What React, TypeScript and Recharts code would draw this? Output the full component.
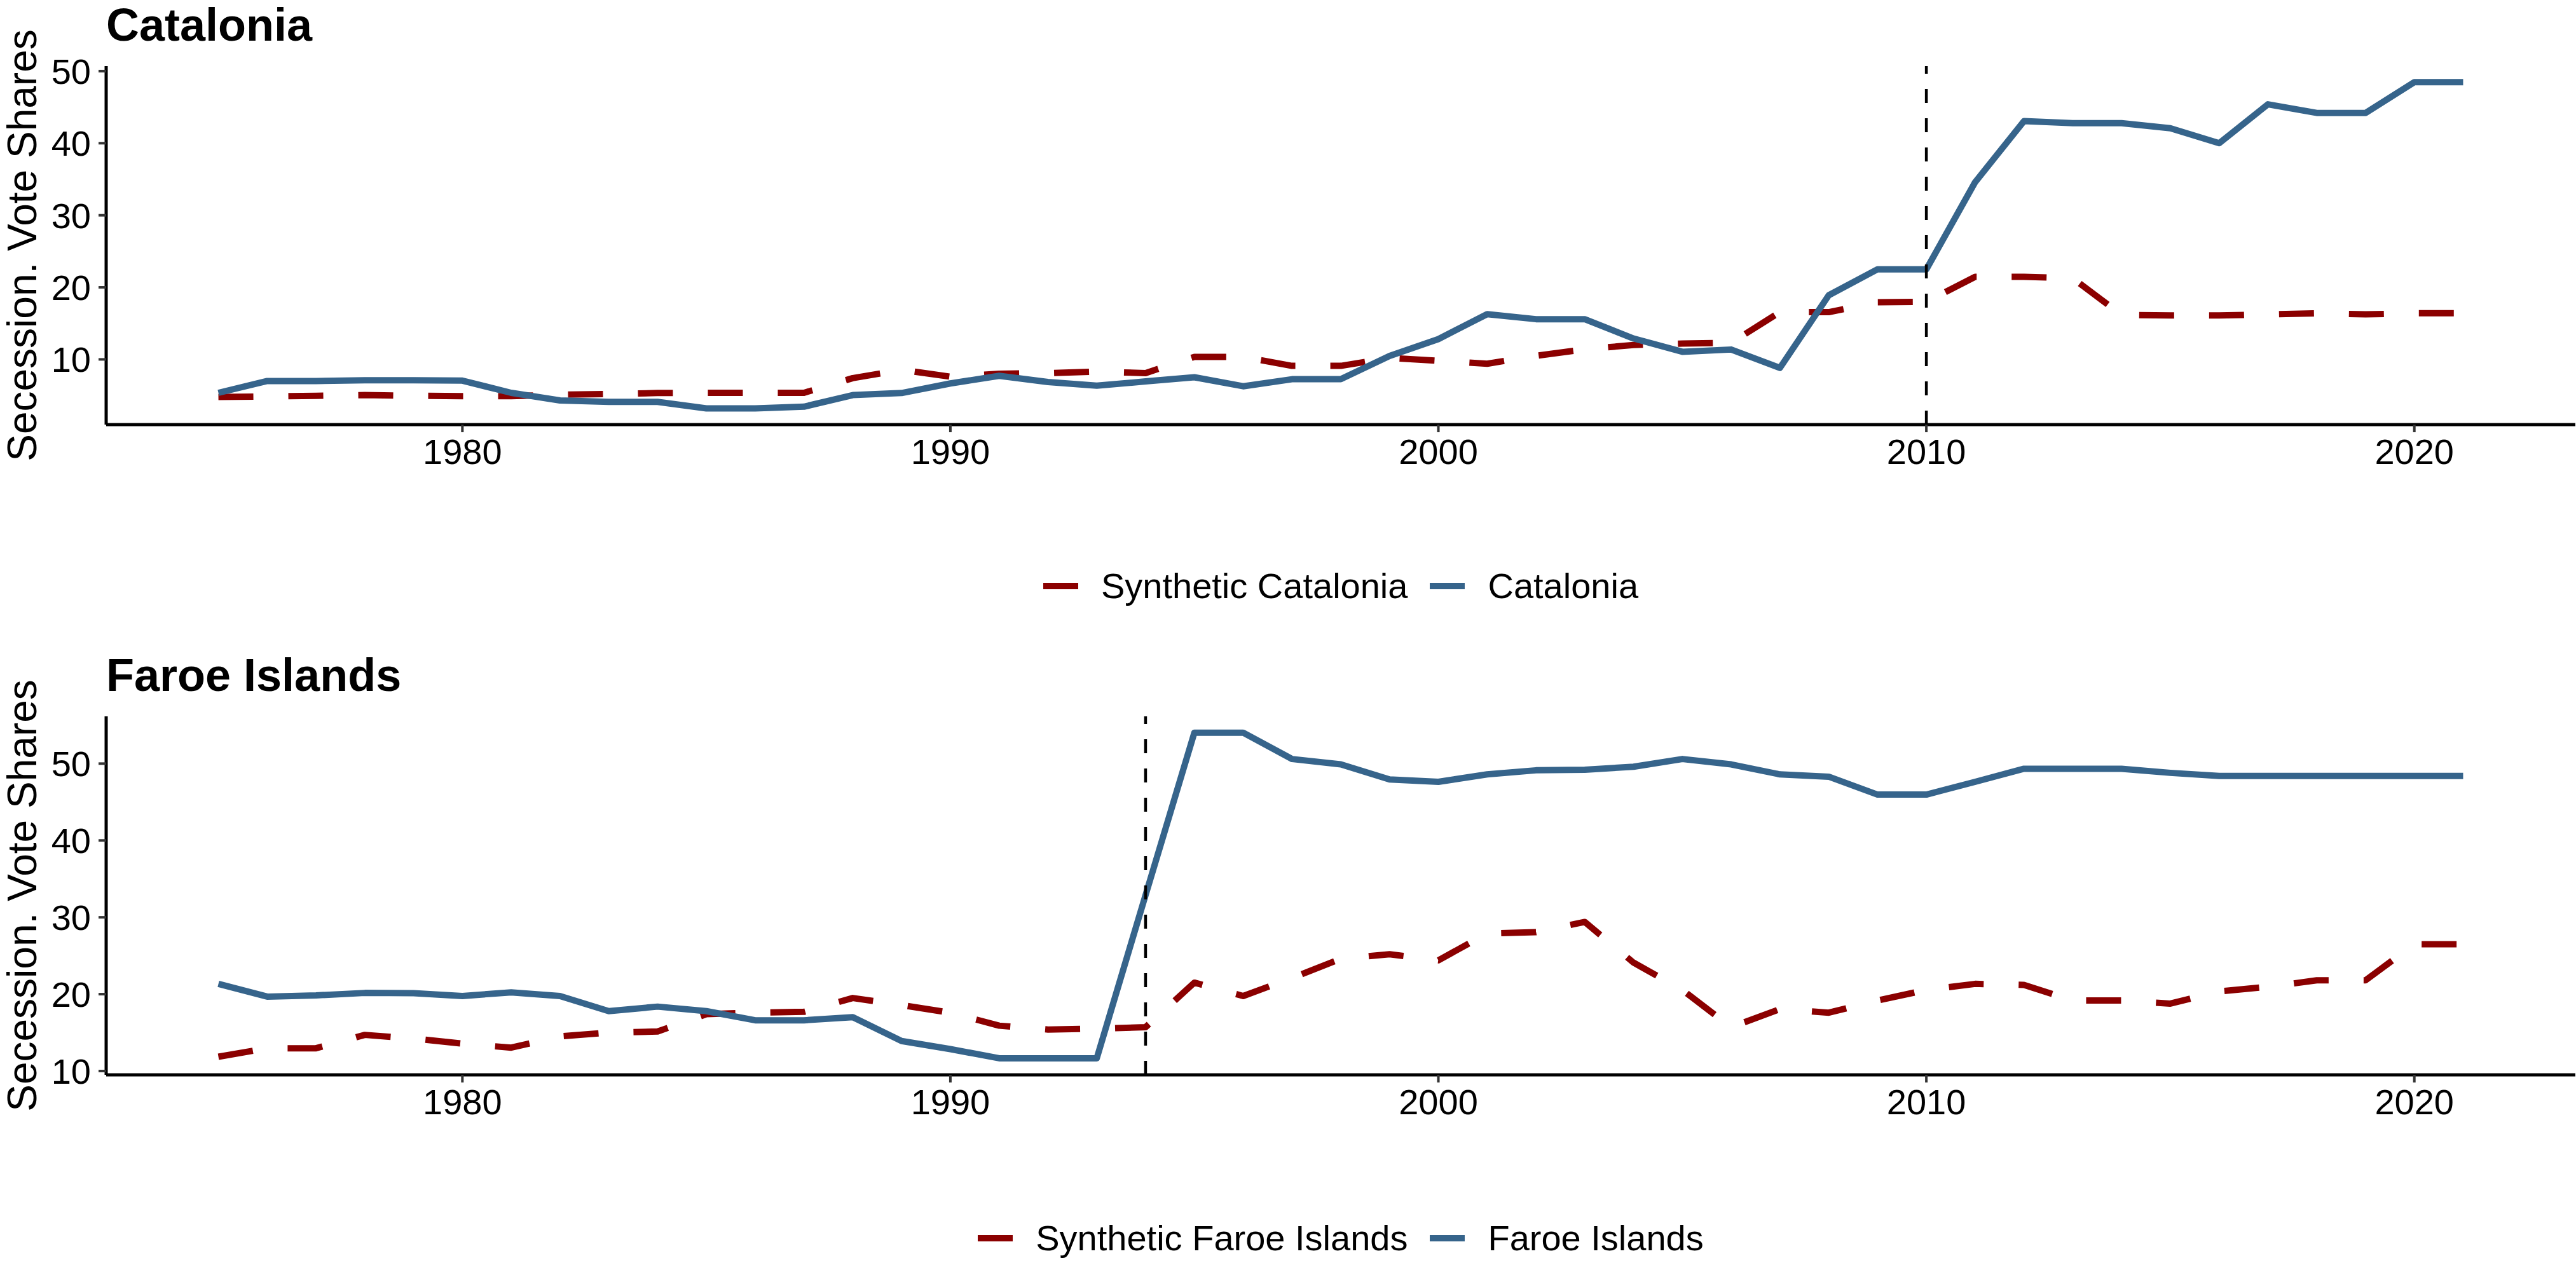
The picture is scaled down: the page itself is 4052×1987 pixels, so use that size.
import React from 'react';
import { LineChart, Line, XAxis, YAxis, ReferenceLine, Legend } from 'recharts';

const years = [
  1975, 1976, 1977, 1978, 1979, 1980, 1981, 1982, 1983, 1984, 1985, 1986, 1987, 1988, 1989,
  1990, 1991, 1992, 1993, 1994, 1995, 1996, 1997, 1998, 1999, 2000, 2001, 2002, 2003, 2004,
  2005, 2006, 2007, 2008, 2009, 2010, 2011, 2012, 2013, 2014, 2015, 2016, 2017, 2018, 2019,
  2020, 2021,
];

const catalonia = [
  5.36, 7.0, 7.0, 7.1, 7.1, 7.05, 5.36, 4.3, 4.1, 4.1, 3.2, 3.2, 3.44, 5.05, 5.33,
  6.66, 7.72, 6.86, 6.35, 6.94, 7.52, 6.27, 7.25, 7.25, 10.47, 12.82, 16.28, 15.58, 15.58, 12.9,
  11.06, 11.37, 8.82, 18.9, 22.5, 22.5, 34.6, 43.06, 42.78, 42.78, 42.07, 40.0, 45.4, 44.2, 44.2,
  48.48, 48.48,
];

const syntheticCatalonia = [
  4.78, 4.86, 4.95, 5.05, 4.95, 4.9, 4.9, 5.1, 5.2, 5.33, 5.36, 5.36, 5.36, 7.4, 8.55,
  7.6, 8.0, 8.1, 8.3, 8.1, 10.35, 10.35, 9.1, 9.1, 10.2, 9.8, 9.4, 10.5, 11.4, 12.0,
  12.2, 12.3, 16.56, 16.56, 17.93, 17.98, 21.46, 21.46, 21.27, 16.17, 16.1, 16.1, 16.25, 16.4, 16.25,
  16.4, 16.4,
];

const faroeIslands = [
  21.34, 19.68, 19.84, 20.16, 20.12, 19.76, 20.24, 19.76, 17.79, 18.38, 17.79, 16.6, 16.6, 17.0, 13.9,
  12.85, 11.66, 11.66, 11.66, 32.9, 54.03, 54.03, 50.6, 49.9, 47.94, 47.63, 48.6, 49.13, 49.2, 49.6,
  50.6, 49.9, 48.6, 48.3, 45.97, 45.97, 47.63, 49.33, 49.33, 49.33, 48.8, 48.4, 48.4, 48.4, 48.4,
  48.4, 48.4,
];

const syntheticFaroeIslands = [
  11.86, 12.96, 12.96, 14.7, 14.23, 13.56, 13.04, 14.5, 15.0, 15.14, 17.39, 17.6, 17.7, 19.5, 18.58,
  17.59, 15.9, 15.4, 15.5, 15.7, 21.5, 19.76, 22.1, 24.6, 25.2, 24.4, 27.9, 28.06, 29.4, 24.1,
  20.55, 15.7, 18.06, 17.59, 19.17, 20.55, 21.34, 21.2, 19.17, 19.17, 18.77, 20.36, 20.95, 21.8, 21.8,
  26.5, 26.5,
];

const xTicks = [1980, 1990, 2000, 2010, 2020];
const yTicks = [10, 20, 30, 40, 50];

const RED = '#8B0000';
const BLUE = '#36648B';
const FONT = '"Liberation Sans", Arial, Helvetica, sans-serif';
const W = 4052;

type PanelProps = {
  title: string;
  synthName: string;
  actualName: string;
  actual: number[];
  synthetic: number[];
  treatYear: number;
  yDomain: [number, number];
  top: number;
  height: number;
  plotTop: number;
  plotBottom: number;
  legendCenter: number;
  titleBaseline: number;
};

const legendOrder: Record<string, number> = { synthetic: 0, actual: 1 };

const renderLegend = (props: any) => {
  const payload = [...(props.payload || [])].sort(
    (a: any, b: any) => (legendOrder[a.dataKey] ?? 9) - (legendOrder[b.dataKey] ?? 9)
  );
  return (
    <div
      style={{
        display: 'flex',
        justifyContent: 'center',
        alignItems: 'center',
        height: 64,
        fontFamily: FONT,
        fontSize: 56,
        lineHeight: '64px',
        color: '#000',
        whiteSpace: 'nowrap',
      }}
    >
      {payload.map((entry: any, i: number) => (
        <div key={i} style={{ display: 'flex', alignItems: 'center', marginRight: i < payload.length - 1 ? 35 : 0 }}>
          <span style={{ display: 'inline-block', width: 55, height: 10, background: entry.color, marginRight: 36 }} />
          <span>{entry.value}</span>
        </div>
      ))}
    </div>
  );
};

function Panel(p: PanelProps) {
  const data = years.map((year, i) => ({ year, synthetic: p.synthetic[i], actual: p.actual[i] }));
  const xAxisHeight = 80;
  const plotCenter = (p.plotTop + p.plotBottom) / 2;
  return (
    <div style={{ position: 'absolute', left: 0, top: p.top, width: W, height: p.height }}>
      <LineChart
        width={W}
        height={p.height}
        data={data}
        margin={{ top: p.plotTop, right: 1, left: 0, bottom: p.height - p.plotBottom - xAxisHeight }}
      >
        <XAxis
          dataKey="year"
          type="number"
          domain={[1972.7, 2023.3]}
          ticks={xTicks}
          allowDataOverflow
          height={xAxisHeight}
          tickSize={12}
          tickMargin={10}
          axisLine={{ stroke: '#000', strokeWidth: 5 }}
          tickLine={{ stroke: '#333', strokeWidth: 4 }}
          tick={{ fill: '#000', fontSize: 56, fontFamily: FONT }}
        />
        <YAxis
          type="number"
          domain={p.yDomain}
          ticks={yTicks}
          allowDataOverflow
          width={167}
          tickSize={12}
          tickMargin={12}
          axisLine={{ stroke: '#000', strokeWidth: 5 }}
          tickLine={{ stroke: '#333', strokeWidth: 4 }}
          tick={{ fill: '#000', fontSize: 56, fontFamily: FONT }}
        />
        <Line
          dataKey="synthetic"
          name={p.synthName}
          stroke={RED}
          strokeWidth={10}
          strokeDasharray="55 55"
          strokeLinejoin="round"
          dot={false}
          activeDot={false}
          isAnimationActive={false}
          type="linear"
        />
        <Line
          dataKey="actual"
          name={p.actualName}
          stroke={BLUE}
          strokeWidth={10}
          strokeLinejoin="round"
          dot={false}
          activeDot={false}
          isAnimationActive={false}
          type="linear"
        />
        <ReferenceLine x={p.treatYear} stroke="#000" strokeWidth={4.5} strokeDasharray="22 24" />
        <Legend
          layout="horizontal"
          verticalAlign="middle"
          align="center"
          wrapperStyle={{ left: 167, top: p.legendCenter - 32, width: W - 168, height: 64 }}
          content={renderLegend}
        />
      </LineChart>
      <svg
        width={W}
        height={p.height}
        style={{ position: 'absolute', left: 0, top: 0, pointerEvents: 'none' }}
      >
        <text x={167} y={p.titleBaseline} fontFamily={FONT} fontWeight="bold" fontSize={72} fill="#000">
          {p.title}
        </text>
        <text
          x={57}
          y={plotCenter}
          transform={`rotate(-90 57 ${plotCenter})`}
          textAnchor="middle"
          fontFamily={FONT}
          fontSize={64}
          fill="#000"
        >
          Secession. Vote Shares
        </text>
      </svg>
    </div>
  );
}

export default function App() {
  return (
    <div style={{ position: 'absolute', left: 0, top: 0, width: W, height: 1987, background: '#fff', overflow: 'hidden' }}>
      <Panel
        title="Catalonia"
        synthName="Synthetic Catalonia"
        actualName="Catalonia"
        actual={catalonia}
        synthetic={syntheticCatalonia}
        treatYear={2010}
        yDomain={[0.95, 50.7]}
        top={0}
        height={1000}
        plotTop={104}
        plotBottom={668}
        legendCenter={922}
        titleBaseline={64}
      />
      <Panel
        title="Faroe Islands"
        synthName="Synthetic Faroe Islands"
        actualName="Faroe Islands"
        actual={faroeIslands}
        synthetic={syntheticFaroeIslands}
        treatYear={1994}
        yDomain={[9.5, 56.15]}
        top={1000}
        height={987}
        plotTop={127}
        plotBottom={691}
        legendCenter={948}
        titleBaseline={87}
      />
    </div>
  );
}
